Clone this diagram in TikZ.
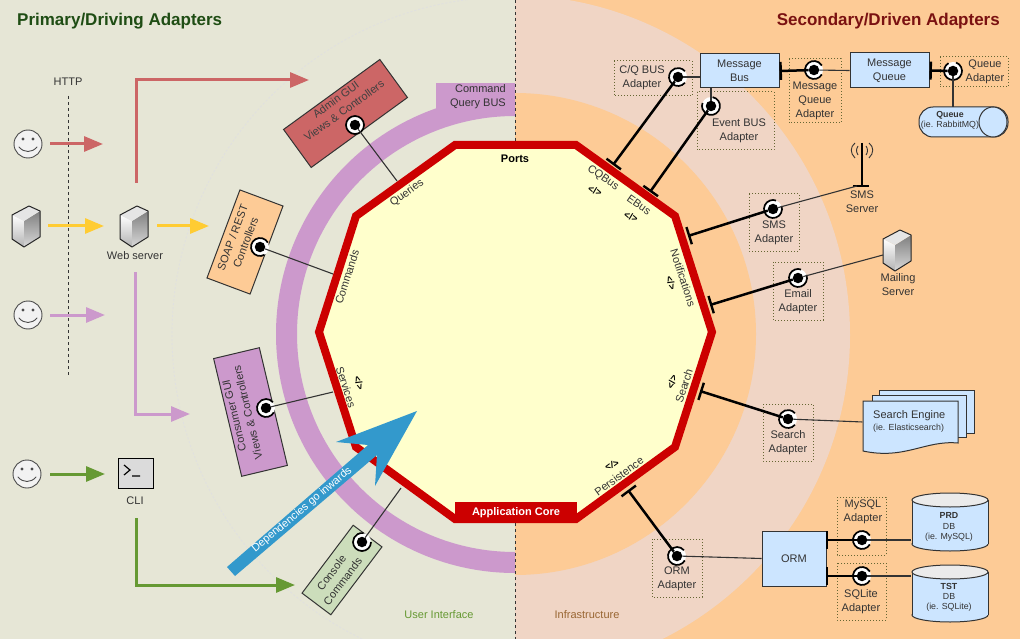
\documentclass[tikz,border=0pt]{standalone}
\usepackage{fontspec}
\setmainfont{Liberation Sans}
\usetikzlibrary{arrows.meta}
\definecolor{leftbg}{HTML}{E6E6D6}
\definecolor{rightbg}{HTML}{FDCB96}
\definecolor{pinkband}{HTML}{F0D5C5}
\definecolor{purpleband}{HTML}{CC99CC}
\definecolor{corered}{HTML}{CC0000}
\definecolor{corefill}{HTML}{FFFFCC}
\definecolor{bluefill}{HTML}{CCE5FF}
\definecolor{inkgray}{HTML}{333333}
\definecolor{flowred}{HTML}{CC6666}
\definecolor{flowyellow}{HTML}{FFCC33}
\definecolor{flowgreen}{HTML}{669933}
\definecolor{depblue}{HTML}{3399CC}
\definecolor{sagefill}{HTML}{CCDDBB}
\definecolor{dotolive}{HTML}{666633}
\definecolor{primaryink}{HTML}{1F4D14}
\definecolor{secondaryink}{HTML}{7A1111}
\tikzset{
  txt/.style={font=\fontsize{11}{14}\selectfont,text=inkgray,align=center,inner sep=0pt},
  small/.style={font=\fontsize{8.8}{11}\selectfont,text=inkgray,align=center,inner sep=0pt},
  smallbold/.style={small,font=\fontsize{8.8}{11}\selectfont\bfseries},
  gate/.style={font=\fontsize{9.5}{10}\selectfont\bfseries,text=black,inner sep=0pt},
  adapterbox/.style={draw=inkgray,line width=1pt,inner sep=0pt},
  bluebox/.style={draw=inkgray,line width=1pt,fill=bluefill,txt},
  dotbox/.style={draw=dotolive,line width=1pt,dash pattern=on 1pt off 2pt},
  thinwire/.style={draw=inkgray,line width=1.1pt},
  thickwire/.style={draw=black,line width=2.5pt},
  portend/.style={thickwire,-{Bar[width=18pt,line width=2.4pt]}},
  portstart/.style={thickwire,{Bar[width=18pt,line width=2.4pt]}-},
  portdot/.style={circle,fill=black,minimum size=10.5pt,inner sep=0pt},
  flow/.style={line width=3pt,-{Triangle[length=19pt,width=15pt]}},
  divider/.style={draw=inkgray,line width=1pt,dash pattern=on 3pt off 3pt},
  server/.pic={
    \shade[top color=white,bottom color=black!30] (-14,-11) -- (-2,-5) -- (-2,21) -- (-14,13) -- cycle;
    \shade[top color=black!50,bottom color=black!15] (-2,-5) -- (14,-15) -- (14,11) -- (-2,21) -- cycle;
    \fill[black!10] (-14,-11) -- (3,-20) -- (14,-15) -- (-2,-5) -- cycle;
    \draw[black!85,line width=1pt,line join=round] (-14,-11) -- (3,-20) -- (14,-15) -- (14,11) -- (-2,21) -- (-14,13) -- cycle;
  },
  smiley/.pic={
    \draw[fill=black!5,draw=black!70,line width=.9pt] (0,0) circle[radius=14];
    \fill[black!70] (-5,-5) circle[radius=1.7] (5,-5) circle[radius=1.7];
    \draw[black!70,line width=.9pt,line cap=round] (-9,3) .. controls (-4,9) and (4,9) .. (9,3);
  }
}
% Port marker: a black disc in a white halo, with a ring left open where the line leaves
\newcommand{\portmark}[4]{%
  \fill[white] (#2) circle[radius=9];
  \draw[black,line width=1.7pt] (#2) ++(#3:9) arc[start angle=#3,end angle=#4,radius=9];
  \node[portdot] (#1) at (#2) {};
}
\begin{document}
\begin{tikzpicture}[x=1pt,y=-1pt]
\useasboundingbox (0,0) rectangle (1020,639);

% Background halves and the concentric layers
\fill[leftbg] (0,0) rectangle (515,639);
\fill[rightbg] (515,0) rectangle (1020,639);
\begin{scope}
  \clip (515,0) rectangle (1020,639);
  \fill[pinkband] (510,335) circle[radius=340];
  \fill[rightbg] (515,334) circle[radius=241];
\end{scope}
\begin{scope}
  \clip (0,0) rectangle (515,639);
  \draw[black!12,line width=.8pt,dash pattern=on 2pt off 2pt] (510,335) circle[radius=338];
  \fill[purpleband,even odd rule] (515,334) circle[radius=239] (515,334) circle[radius=218];
  \fill[purpleband] (436,83) rectangle (515,115);
\end{scope}
\draw[divider] (515,0) -- (515,141);
\draw[divider] (515,523) -- (515,639);

% Application core
\draw[corered,fill=corefill,line width=8pt,miter limit=10,line join=miter]
  (455,145) -- (576,145) -- (675,216) -- (712,332) -- (675,447)
  -- (576,519) -- (455,519) -- (356,447) -- (319,332) -- (356,216) -- cycle;
\node[fill=corered,minimum width=122pt,minimum height=21pt,inner sep=0pt,
  font=\fontsize{11}{14}\selectfont\bfseries,text=white] (corelabel) at (516,512.5) {Application Core};

% Titles and zone captions
\node[font=\fontsize{17}{20}\selectfont\bfseries,text=primaryink,anchor=west,inner sep=0pt] (primarytitle) at (17,21) {Primary/Driving Adapters};
\node[font=\fontsize{17}{20}\selectfont\bfseries,text=secondaryink,anchor=east,inner sep=0pt] (secondarytitle) at (1000,21) {Secondary/Driven Adapters};
\node[font=\fontsize{11}{14}\selectfont,text=flowgreen,inner sep=0pt] (uilabel) at (439,615) {User Interface};
\node[font=\fontsize{11}{14}\selectfont,text=brown!80!black,inner sep=0pt] (infralabel) at (587,615) {Infrastructure};
\node[txt,align=right,anchor=north east] (cqbuslabel) at (506,84) {Command\\Query BUS};

% Port captions on the core
\node[font=\fontsize{11}{14}\selectfont\bfseries,text=black,inner sep=0pt] (portsl) at (515,159) {Ports};
\node[txt,rotate=36] (queriesl) at (407,193) {Queries};
\node[txt,rotate=72] (commandsl) at (347,277) {Commands};
\node[txt,rotate=-72] (servicesl) at (346,387) {Services};
\node[gate,rotate=-72] (servicesg) at (359,383) {</>};
\node[txt,rotate=-35] (cqbusl) at (603,178) {CQBus};
\node[gate,rotate=-20] (cqbusg) at (595,191) {</>};
\node[txt,rotate=-35] (ebusl) at (639,205) {EBus};
\node[gate,rotate=-20] (ebusg) at (631,217) {</>};
\node[txt,rotate=-72] (notifl) at (683,278) {Notifications};
\node[gate,rotate=-72] (notifg) at (671,283) {</>};
\node[txt,rotate=72] (searchl) at (684,386) {Search};
\node[gate,rotate=72] (searchg) at (672,382) {</>};
\node[txt,rotate=36] (persistl) at (619,476) {Persistence};
\node[gate,rotate=15] (persistg) at (612,465) {</>};

% HTTP boundary
\node[txt] (httplabel) at (68,82) {HTTP};
\coordinate (httptop) at (68,96);
\coordinate (httpbot) at (68,375);
\draw[divider] (httptop) -- (httpbot);

% Actors and servers on the driving side
\pic (userA) at (28,144) {smiley};
\pic (userB) at (28,315) {smiley};
\pic (userC) at (27,474) {smiley};
\pic (clientsrv) at (26,226) {server};
\pic (websrv) at (134,226) {server};
\node[txt] (websrvl) at (135,256) {Web server};
\node[draw=black,line width=1.6pt,fill=black!14,minimum width=35pt,minimum height=30pt,inner sep=0pt] (cli) at (136,473.5) {};
\draw[black,line width=1.2pt] (124,465) -- (130,470) -- (124,475) (132,476) -- (140,476);
\node[txt] (clil) at (135,501) {CLI};

% Flow arrows into the driving adapters
\coordinate (ra) at (50,144); \coordinate (rb) at (103,144);
\coordinate (rc) at (136,183); \coordinate (rd) at (136,80); \coordinate (re) at (309,80);
\coordinate (ya) at (48,226); \coordinate (yb) at (104,226);
\coordinate (yc) at (157,226); \coordinate (yd) at (209,226);
\coordinate (pa) at (50,315); \coordinate (pb) at (105,315);
\coordinate (pc) at (135,272); \coordinate (pd) at (135,414); \coordinate (pe) at (190,414);
\coordinate (ga) at (50,474); \coordinate (gb) at (105,474);
\coordinate (gc) at (136,518); \coordinate (gd) at (136,585); \coordinate (ge) at (295,585);
\draw[flow,flowred] (ra) -- (rb);
\draw[flow,flowred] (rc) -- (rd) -- (re);
\draw[flow,flowyellow] (ya) -- (yb);
\draw[flow,flowyellow] (yc) -- (yd);
\draw[flow,purpleband] (pa) -- (pb);
\draw[flow,purpleband] (pc) -- (pd) -- (pe);
\draw[flow,flowgreen] (ga) -- (gb);
\draw[flow,flowgreen] (gc) -- (gd) -- (ge);

% Driving adapters
\node[adapterbox,fill=flowred,rotate=36,minimum width=119pt,minimum height=47pt] (admin) at (345.5,113.5) {};
\node[txt,rotate=36,text=black!75] (adminl) at (340,105) {Admin GUI\\Views \& Controllers};
\node[adapterbox,fill=rightbg,rotate=69.5,minimum width=94pt,minimum height=46pt] (soap) at (245,242) {};
\node[txt,rotate=69.5] (soapl) at (239,240) {SOAP / REST\\Controllers};
\node[adapterbox,fill=purpleband,rotate=103.4,minimum width=121pt,minimum height=47pt] (consumer) at (250.5,412) {};
\node[txt,rotate=103.4] (consumerl) at (241,414) {Consumer GUI\\Views \& Controllers};
\node[adapterbox,fill=sagefill,rotate=53,minimum width=85pt,minimum height=36pt] (console) at (342,570) {};
\node[txt,rotate=53] (consolel) at (337,577) {Console\\Commands};

\portmark{padmin}{355,125}{0}{360}
\portmark{psoap}{260,247}{60}{330}
\portmark{pconsumer}{266,408}{30}{320}
\portmark{pconsole}{362,542}{0}{280}
\coordinate (qadmin) at (397,181);
\coordinate (qsoap) at (333,274);
\coordinate (qconsumer) at (333,392);
\coordinate (qconsole) at (401,488);
\draw[thinwire] (padmin) -- (qadmin);
\draw[thinwire] (psoap) -- (qsoap);
\draw[thinwire] (pconsumer) -- (qconsumer);
\draw[thinwire] (pconsole) -- (qconsole);

% Dependency arrow
\fill[depblue] (227,567) -- (368,445) -- (336,442) -- (417,411) -- (375,486) -- (377,455) -- (235,576) -- cycle;
\node[font=\fontsize{11}{12}\selectfont,text=white,rotate=40,inner sep=0pt] (deplabel) at (302,510) {Dependencies go inwards};

% Driven adapters: dotted frames
\draw[dotbox] (614,61) rectangle (692,96);
\draw[dotbox] (697,92) rectangle (774,150);
\draw[dotbox] (789,59) rectangle (841,123);
\draw[dotbox] (940,57) rectangle (1008,87);
\draw[dotbox] (749,194) rectangle (799,251);
\draw[dotbox] (773,262) rectangle (823,320);
\draw[dotbox] (763,404) rectangle (813,461);
\draw[dotbox] (652,539) rectangle (702,597);
\draw[dotbox] (837,497) rectangle (886,555);
\draw[dotbox] (837,563) rectangle (886,620);

% Driven adapters: captions
\node[txt] (cqadl) at (642,78) {C/Q BUS\\Adapter};
\node[txt] (evadl) at (739,131) {Event BUS\\Adapter};
\node[txt] (mqadl) at (815,101) {Message\\Queue\\Adapter};
\node[txt] (qadl) at (985,72) {Queue\\Adapter};
\node[txt] (smsadl) at (774,233) {SMS\\Adapter};
\node[txt] (emadl) at (798,302) {Email\\Adapter};
\node[txt] (seadl) at (788,443) {Search\\Adapter};
\node[txt] (ormadl) at (677,579) {ORM\\Adapter};
\node[txt] (myadl) at (863,512) {MySQL\\Adapter};
\node[txt] (sqadl) at (861,602) {SQLite\\Adapter};

% Infrastructure boxes
\node[bluebox,minimum width=79pt,minimum height=34pt] (mbus) at (739.5,71) {Message\\Bus};
\node[bluebox,minimum width=79pt,minimum height=35pt] (mqueue) at (889.5,70.5) {Message\\Queue};
\node[bluebox,minimum width=64pt,minimum height=55pt] (orm) at (794,558.5) {ORM};

% Queue as a lying cylinder
\node[minimum width=89pt,minimum height=30pt,inner sep=0pt] (queue) at (963.5,122) {};
\draw[draw=inkgray,line width=1pt,fill=bluefill,rounded corners=14pt] (919,107) rectangle (1008,137);
\draw[draw=inkgray,line width=1pt,fill=bluefill] (993,122) ellipse[x radius=14,y radius=15];
\node[smallbold] (queuel) at (950,115) {Queue};
\node[small] (queuesub) at (950,125) {(ie. RabbitMQ)};

% SMS server antenna
\coordinate (smsbase) at (862,186);
\coordinate (smsfoot) at (857,186);
\draw[black,line width=2.4pt] (862,143) -- (smsbase);
\draw[black,line width=2.2pt] (853,186) -- (869,186);
\draw[black!80,line width=.9pt] (855,143) .. controls (850,147) and (850,153) .. (855,158)
  (869,143) .. controls (874,147) and (874,153) .. (869,158)
  (858,146) .. controls (856,149) and (856,152) .. (858,155)
  (866,146) .. controls (868,149) and (868,152) .. (866,155);
\node[txt] (smsl) at (862,202) {SMS\\Server};

% Mailing server
\pic (mailsrv) at (897,250) {server};
\coordinate (mailin) at (883,255);
\node[txt] (maill) at (898,285) {Mailing\\Server};

% Search engine documents
\draw[draw=inkgray,line width=1pt,fill=bluefill] (879,390) rectangle (974,433);
\draw[draw=inkgray,line width=1pt,fill=bluefill] (872,395) rectangle (966,437);
\draw[draw=inkgray,line width=1pt,fill=bluefill] (863,401) -- (958,401) -- (958,443)
  .. controls (925,440) and (905,460) .. (863,451) -- cycle;
\node[inner sep=0pt,minimum width=1pt] (sengine) at (863,422) {};
\node[txt,anchor=west] (sel) at (873,416) {Search Engine};
\node[small,anchor=west] (sesub) at (873,428) {(ie. Elasticsearch)};

% Databases
\node[inner sep=0pt,minimum width=1pt] (dbmy) at (912,540) {};
\draw[draw=inkgray,line width=1pt,fill=bluefill] (950,544) ellipse[x radius=38,y radius=7];
\fill[bluefill] (912,500) rectangle (988,544);
\draw[draw=inkgray,line width=1pt] (912,500) -- (912,544) (988,500) -- (988,544);
\draw[draw=inkgray,line width=1pt,fill=black!8] (950,500) ellipse[x radius=38,y radius=7];
\node[smallbold] (prdl) at (949,515) {PRD};
\node[small] (prddb) at (949,526) {DB};
\node[small] (prdsub) at (949,537) {(ie. MySQL)};

\node[inner sep=0pt,minimum width=1pt] (dbsq) at (912,576) {};
\draw[draw=inkgray,line width=1pt,fill=bluefill] (950,615) ellipse[x radius=38,y radius=7];
\fill[bluefill] (912,572) rectangle (988,615);
\draw[draw=inkgray,line width=1pt] (912,572) -- (912,615) (988,572) -- (988,615);
\draw[draw=inkgray,line width=1pt,fill=black!8] (950,572) ellipse[x radius=38,y radius=7];
\node[smallbold] (tstl) at (949,586) {TST};
\node[small] (tstdb) at (949,596) {DB};
\node[small] (tstsub) at (949,607) {(ie. SQLite)};

% Driven adapter ports
\portmark{pcq}{678,77}{40}{320}
\portmark{pev}{711,106}{-80}{200}
\portmark{pmq}{814,70}{30}{330}
\portmark{pq}{953,71}{-70}{240}
\portmark{psms}{773,209}{-20}{290}
\portmark{pem}{798,278}{-20}{290}
\portmark{pse}{788,419}{40}{320}
\portmark{porm}{677,556}{30}{320}
\portmark{pmy}{862,540}{30}{330}
\portmark{psq}{862,576}{30}{330}

% Connections from the ports to the core
\coordinate (tcq) at (613,165);
\coordinate (tev) at (650,192);
\coordinate (tsms) at (688,236);
\coordinate (tem) at (710,305);
\coordinate (tse) at (700,391);
\coordinate (torm) at (628,490);
\draw[portend] (pcq) -- (tcq);
\draw[portend] (pev) -- (tev);
\draw[portend] (psms) -- (tsms);
\draw[portend] (pem) -- (tem);
\draw[portend] (pse) -- (tse);
\draw[portend] (porm) -- (torm);

% Connections from the ports to the infrastructure
\draw[thinwire] (pcq) -- (mbus.west |- pcq);
\draw[thinwire] (pev) -- (pev |- mbus.south);
\draw[portstart] (mbus.east) -- (pmq);
\draw[thinwire] (pmq) -- (mqueue.west);
\draw[portstart] (mqueue.east) -- (pq);
\draw[thinwire] (pq) -- (pq |- queue.north);
\draw[thinwire] (psms) -- (smsfoot);
\draw[thinwire] (pem) -- (mailin);
\draw[thinwire] (pse) -- (sengine);
\draw[thinwire] (porm) -- (orm.west);
\coordinate (ormtop) at (826,540);
\coordinate (ormbot) at (826,576);
\draw[portstart] (ormtop) -- (pmy);
\draw[portstart] (ormbot) -- (psq);
\draw[thinwire] (pmy) -- (dbmy);
\draw[thinwire] (psq) -- (dbsq);
\end{tikzpicture}
\end{document}
